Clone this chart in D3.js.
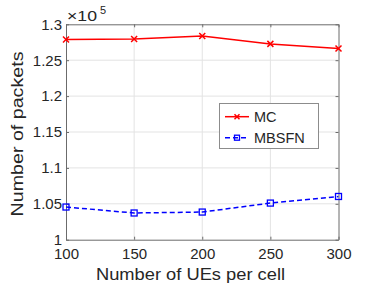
<!DOCTYPE html>
<html><head><meta charset="utf-8">
<script src="https://cdn.jsdelivr.net/npm/d3@7"></script>
<style>
html,body{margin:0;padding:0;background:#fff;}
svg{display:block;font-family:"Liberation Sans",Arial,sans-serif;}
</style></head>
<body>
<svg id="c" width="374" height="287"></svg>
<script>
const xValues = [100, 150, 200, 250, 300];
const mcValues = [1.2787, 1.2795, 1.2838, 1.2727, 1.2663];
const mbsfnValues = [1.0455, 1.0372, 1.0385, 1.0510, 1.0602];
const xTicks = [100, 150, 200, 250, 300];
const yTicks = [1, 1.05, 1.1, 1.15, 1.2, 1.25, 1.3];
const seriesNames = ["MC", "MBSFN"];

const svg = d3.select("#c");
const L = 66, R = 338.5, T = 24.3, B = 239.7;
const x = d3.scaleLinear().domain([100, 300]).range([L, R]);
const y = d3.scaleLinear().domain([1, 1.3]).range([B, T]);
const axisCol = "#6b6b6b", textCol = "#262626";

// grid
svg.append("g").selectAll("line").data(xTicks.slice(1,-1)).join("line")
  .attr("x1", d=>x(d)).attr("x2", d=>x(d)).attr("y1", T).attr("y2", B)
  .attr("stroke", "#e3e3e3").attr("stroke-width", 1);
svg.append("g").selectAll("line").data(yTicks.slice(1,-1)).join("line")
  .attr("y1", d=>y(d)).attr("y2", d=>y(d)).attr("x1", L).attr("x2", R)
  .attr("stroke", "#e3e3e3").attr("stroke-width", 1);

// axes
const xa = svg.append("g").attr("transform", `translate(0,${B})`)
  .call(d3.axisBottom(x).tickValues(xTicks).tickSizeInner(-3).tickSizeOuter(0).tickPadding(9).tickFormat(d3.format("d")));
const xt = svg.append("g").attr("transform", `translate(0,${T})`)
  .call(d3.axisTop(x).tickValues(xTicks).tickSizeInner(-3).tickSizeOuter(0).tickFormat(""));
const ya = svg.append("g").attr("transform", `translate(${L},0)`)
  .call(d3.axisLeft(y).tickValues(yTicks).tickSizeInner(-3).tickSizeOuter(0).tickPadding(4).tickFormat(d=>d3.format("")(+d.toFixed(2))));
const yr = svg.append("g").attr("transform", `translate(${R},0)`)
  .call(d3.axisRight(y).tickValues(yTicks).tickSizeInner(-3).tickSizeOuter(0).tickFormat(""));
[xa, xt, ya, yr].forEach(g => {
  g.selectAll(".domain").attr("stroke", axisCol).attr("stroke-width", 1);
  g.selectAll(".tick line").attr("stroke", axisCol);
  g.selectAll("text").attr("fill", textCol).style("font-size", "15px").style("font-family", '"Liberation Sans",Arial,sans-serif');
});

// multiplier
svg.append("text").attr("x", 67).attr("y", 20.5).attr("fill", textCol)
  .style("font-size", "15.5px").attr("textLength", 30).attr("lengthAdjust", "spacingAndGlyphs").text("×10");
svg.append("text").attr("x", 100).attr("y", 14).attr("fill", textCol)
  .style("font-size", "11px").text("5");

// labels
svg.append("text").attr("x", 96).attr("y", 280).attr("fill", textCol)
  .style("font-size", "16px").attr("textLength", 189).attr("lengthAdjust", "spacingAndGlyphs").text("Number of UEs per cell");
svg.append("text").attr("transform", `translate(23,216.5) rotate(-90)`)
  .attr("fill", textCol).style("font-size", "16px").attr("textLength", 165).attr("lengthAdjust", "spacingAndGlyphs").text("Number of packets");

// lines
const line = d3.line().x((d,i)=>x(xValues[i])).y(d=>y(d));
svg.append("path").datum(mcValues).attr("d", line).attr("fill", "none").attr("stroke", "#ff0000").attr("stroke-width", 1.5);
svg.append("path").datum(mbsfnValues).attr("d", line).attr("fill", "none").attr("stroke", "#0000ff").attr("stroke-width", 1.5).attr("stroke-dasharray", "5,3");

function cross(g, cx, cy, s, col){
  g.append("path").attr("d", `M${cx-s},${cy-s}L${cx+s},${cy+s}M${cx-s},${cy+s}L${cx+s},${cy-s}`)
    .attr("stroke", col).attr("stroke-width", 1.5).attr("fill", "none");
}
function square(g, cx, cy, s, col){
  g.append("rect").attr("x", cx-s).attr("y", cy-s).attr("width", 2*s).attr("height", 2*s)
    .attr("stroke", col).attr("stroke-width", 1.3).attr("fill", "none");
}
const mk = svg.append("g");
mcValues.forEach((v,i)=>cross(mk, x(xValues[i]), y(v), 3, "#ff0000"));
mbsfnValues.forEach((v,i)=>square(mk, x(xValues[i]), y(v), 3, "#0000ff"));

// legend
const lg = svg.append("g");
lg.append("rect").attr("x", 219.5).attr("y", 103.5).attr("width", 99).attr("height", 45)
  .attr("fill", "#fff").attr("stroke", "#8c8c8c").attr("stroke-width", 1);
const rows = [116.7, 137.7];
lg.append("line").attr("x1", 225).attr("x2", 249).attr("y1", rows[0]).attr("y2", rows[0]).attr("stroke", "#ff0000").attr("stroke-width", 1.5);
cross(lg, 237, rows[0], 2.5, "#ff0000");
lg.append("line").attr("x1", 225).attr("x2", 249).attr("y1", rows[1]).attr("y2", rows[1]).attr("stroke", "#0000ff").attr("stroke-width", 1.5).attr("stroke-dasharray", "5,3");
square(lg, 237, rows[1], 2.5, "#0000ff");
seriesNames.forEach((n,i)=>lg.append("text").attr("x", 254).attr("y", rows[i]+5.3).attr("fill", textCol).style("font-size", "14.5px").text(n));
</script>
</body></html>
